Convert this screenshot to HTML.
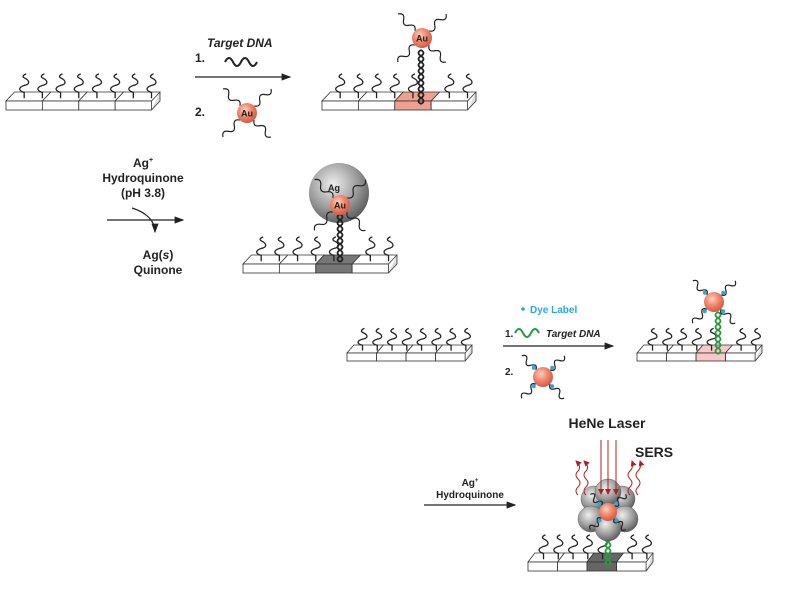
<!DOCTYPE html><html><head><style>body{margin:0;background:#fff}svg{display:block}text{font-family:"Liberation Sans",sans-serif;font-weight:bold;fill:#222}</style></head><body>
<svg id="s" width="800" height="600" viewBox="0 0 800 600" xmlns="http://www.w3.org/2000/svg">
<defs>
<radialGradient id="au" cx="40%" cy="35%" r="65%"><stop offset="0" stop-color="#fbd0c0"/><stop offset=".5" stop-color="#ef8a70"/><stop offset="1" stop-color="#d65a45"/></radialGradient>
<radialGradient id="ag" cx="40%" cy="35%" r="70%"><stop offset="0" stop-color="#eee"/><stop offset=".6" stop-color="#999"/><stop offset="1" stop-color="#555"/></radialGradient>
<marker id="ah" markerWidth="8" markerHeight="6" refX="7" refY="3" orient="auto"><path d="M0,0L8,3L0,6z" fill="#222"/></marker>
<marker id="rh" markerWidth="6" markerHeight="6" refX="5" refY="3" orient="auto"><path d="M0,0L6,3L0,6z" fill="#b02020"/></marker>
</defs>
<g id="g"></g>
<line x1="195" y1="77" x2="290" y2="77" stroke="#222" stroke-width="1.2" marker-end="url(#ah)"/>
<line x1="107" y1="220" x2="183" y2="220" stroke="#222" stroke-width="1.2" marker-end="url(#ah)"/>
<path d="M132,208 C145,212 155,220 155,232" fill="none" stroke="#222" stroke-width="1.2" marker-end="url(#ah)"/>
<line x1="503" y1="346" x2="613" y2="346" stroke="#222" stroke-width="1.2" marker-end="url(#ah)"/>
<line x1="424" y1="505" x2="515" y2="505" stroke="#222" stroke-width="1.2" marker-end="url(#ah)"/>
<path d="M225,62 q4,-8 8,0 t8,0 t8,0 t8,0" fill="none" stroke="#222" stroke-width="2"/>
<path d="M515,333 q4,-8 8,0 t8,0 t8,0" fill="none" stroke="#2a9a40" stroke-width="2"/>
<circle cx="523" cy="309" r="1.8" fill="#29a8e0"/>
<text x="207" y="47" font-size="12" font-style="italic">Target DNA</text>
<text x="195" y="62" font-size="12">1.</text>
<text x="195" y="116" font-size="12">2.</text>
<text x="143" y="167" font-size="12" text-anchor="middle">Ag<tspan font-size="7" dy="-5">+</tspan></text>
<text x="143" y="182" font-size="12" text-anchor="middle">Hydroquinone</text>
<text x="143" y="197" font-size="12" text-anchor="middle">(pH 3.8)</text>
<text x="158" y="259" font-size="12" text-anchor="middle">Ag(<tspan font-style="italic">s</tspan>)</text>
<text x="158" y="274" font-size="12" text-anchor="middle">Quinone</text>
<text x="530" y="313" font-size="10" style="fill:#29a8e0">Dye Label</text>
<text x="505" y="337" font-size="10">1.</text>
<text x="546" y="337" font-size="10" font-style="italic">Target DNA</text>
<text x="505" y="375" font-size="10">2.</text>
<text x="607" y="428" font-size="14" text-anchor="middle">HeNe Laser</text>
<text x="635" y="457" font-size="14">SERS</text>
<text x="470" y="486" font-size="10" text-anchor="middle">Ag<tspan font-size="6" dy="-4">+</tspan></text>
<text x="470" y="498" font-size="10" text-anchor="middle">Hydroquinone</text>
<g id="t"></g>
</svg>
<script>
var g=document.getElementById('g'),T=document.getElementById('t'),NS='http://www.w3.org/2000/svg';
function el(p,n,a){var e=document.createElementNS(NS,n);for(var k in a)e.setAttribute(k,a[k]);p.appendChild(e);return e;}
function strand(p,x,y,h,c){var s=h/4;el(p,'path',{d:'M'+x+','+y+'v'+(-s)+'c-6,-2 -6,'+(-s+1)+' 0,'+(-s*1.2)+'c6,-1 6,'+(-s+1)+' 0,'+(-s*1.3)+'c-2,-1 -1,-3 2,-4',fill:'none',stroke:c||'#222','stroke-width':1.3});}
function plate(x,y,w,h,n,hl,hc){var d=h*0.5,sk=w*0.055,sw=(w-sk)/n;
 for(var i=0;i<n;i++){var x0=x+i*sw;el(g,'path',{d:'M'+(x0+sk)+','+y+'h'+sw+'l'+(-sk)+','+d+'h'+(-sw)+'z',fill:i==hl?hc:'#fff',stroke:'#333','stroke-width':.8});
 el(g,'rect',{x:x0,y:y+d,width:sw,height:h-d,fill:i==hl?hc:'#fff',stroke:'#333','stroke-width':.8});}
 el(g,'path',{d:'M'+(x+w)+','+y+'v'+(h-d)+'l'+(-sk)+','+d,fill:'#ddd',stroke:'#333','stroke-width':.8});
 for(var i=0;i<n*2;i++){if(hl>=0&&(i==hl*2+1))continue;strand(g,x+sk*0.6+sw*(i+0.5)/2+4,y+d*0.7,h*1.3);}}
function particle(cx,cy,r,lab,dye,len){var L=len||24;for(var k=0;k<4;k++){var a=Math.PI/4+k*Math.PI/2,x=cx+Math.cos(a)*r,y=cy+Math.sin(a)*r,c=Math.cos(a),s=Math.sin(a);
 el(g,'path',{d:'M'+x+','+y+'q'+(c*L/6-s*6)+','+(s*L/6+c*6)+' '+(c*L/3)+','+(s*L/3)+'t'+(c*L/3)+','+(s*L/3)+'t'+(c*L/3)+','+(s*L/3),fill:'none',stroke:'#222','stroke-width':1.2});
 if(dye)el(g,'circle',{cx:x+c*3,cy:y+s*3,r:2,fill:'#29a8e0'});}
 el(g,'circle',{cx:cx,cy:cy,r:r,fill:'url(#au)'});if(lab)el(T,'text',{x:cx,y:cy+3.5,'font-size':9,'text-anchor':'middle'}).textContent=lab;}
function duplex(x,y1,y2,c){var d='M'+x+','+y1,e='M'+x+','+y1;for(var y=y1;y<y2;y+=6){d+=' q5,3 0,6';e+=' q-5,3 0,6';}
 el(g,'path',{d:d,fill:'none',stroke:c,'stroke-width':1.8});el(g,'path',{d:e,fill:'none',stroke:c,'stroke-width':1.8});}
plate(6,92,154,18,4,-1);
plate(322,92,154,18,4,2,'#f0a090');duplex(421,50,100,'#222');particle(422,38,10,'Au');
particle(247,113,10,'Au');
plate(243,255,154,18,4,2,'#777');
el(g,'circle',{cx:339,cy:193,r:30,fill:'url(#ag)'});duplex(340,214,262,'#222');particle(340,205,10,'Au',0,26);
el(T,'text',{x:328,y:191,'font-size':9}).textContent='Ag';
plate(347,345,125,16,4,-1);
plate(637,345,125,16,4,2,'#f8c8c8');duplex(718,312,352,'#2a9a40');particle(714,302,10,'',1,20);
particle(543,377,10,'',1,20);
plate(528,553,125,18,4,2,'#666');duplex(608,524,562,'#2a9a40');
[[-14,-11],[14,-11],[-17,9],[17,9],[0,-18],[0,18]].forEach(function(o){el(g,'circle',{cx:608+o[0],cy:510+o[1],r:13,fill:'url(#ag)',stroke:'#666','stroke-width':.5});});
particle(608,512,9,'',1,16);
[601,608,616].forEach(function(x){el(g,'line',{x1:x,y1:440,x2:x,y2:494,stroke:'#b02020','stroke-width':1,'marker-end':'url(#rh)'});});
[[578,495,-1],[586,495,-1],[630,495,1],[638,495,1]].forEach(function(a){el(g,'path',{d:'M'+a[0]+','+a[1]+'q-4,-4 0,-8t0,-8t0,-8t'+(a[2]*2)+',-10',fill:'none',stroke:'#b02020','stroke-width':1,'marker-end':'url(#rh)'});});
</script>
</body></html>
